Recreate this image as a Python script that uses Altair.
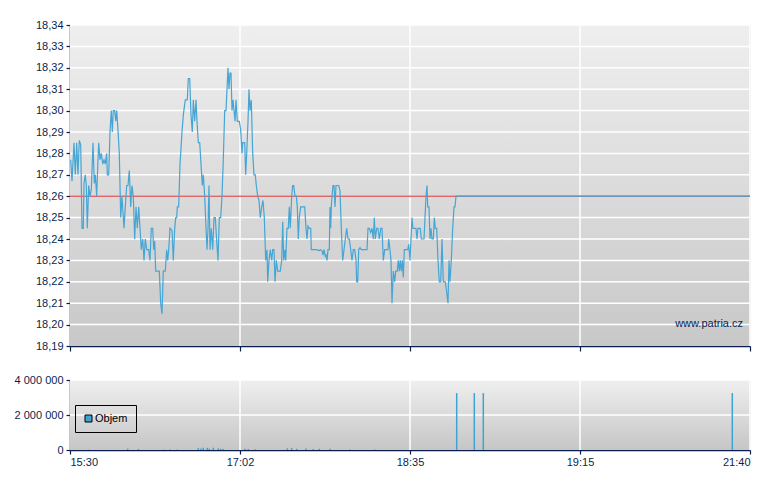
import altair as alt
import pandas as pd

# ---- data ----
t = [0.7, 2, 4, 5.3, 6.7, 8, 9.3, 10.7, 12, 13.3, 14, 15.3, 16.3, 17.3, 18.7, 20, 21.3, 23, 24.3, 25.3,
     26.7, 28, 28.7, 30, 31.3, 32.7, 34, 35.3, 36.7, 37.3, 38.7, 40, 41.3, 42.3, 43.3, 44.7, 45.7, 46.7, 48, 49.3,
     50.7, 52, 54, 55.3, 56.7, 58, 59.3, 60.7, 62, 63.3, 64.7, 66, 67.3, 68.7, 70, 71.3, 72.7, 74, 75.3, 76.7,
     77.3, 78.7, 80, 81.3, 82.7, 83.7, 84.7, 85.7, 87.7, 89.3, 90.7, 92, 93.3, 95.3, 96.7, 97.7, 98.7, 100, 102, 103.3,
     104.7, 105.7, 106.7, 107.3, 108.7, 110, 112, 113.3, 115.3, 117.3, 118.3, 119.7, 121, 122.3, 123.3, 124.7, 126, 127, 128.3, 129.7,
     131, 132.3, 133.3, 134.7, 136, 137, 138, 139, 140, 141.3, 142.7, 144, 145.3, 146.7, 148, 149.3, 150.7, 152, 153.3, 154.7,
     156, 158, 159, 160, 161, 162, 163, 164, 165, 166, 167.3, 169.3, 170.7, 172, 172.7, 174.7, 175.7, 176.7, 178, 179,
     180, 181.3, 182.7, 184, 185.3, 186.3, 187.7, 189, 190.3, 191.7, 193, 194.3, 195.7, 197, 197.7, 199, 200.3, 201.7, 202.7, 204,
     205, 206.3, 207.7, 209, 210.3, 211.7, 212.7, 213.7, 214.7, 215.7, 217, 218.3, 219.3, 220.3, 221.7, 222.7, 223.7, 225, 226.3, 227.3,
     228.3, 229.3, 230.7, 232, 234.7, 236, 237, 238, 239.3, 240.7, 241.3, 243.7, 247, 248.7, 250.3, 252, 253, 254, 255.3, 256,
     257, 258, 259.3, 260, 260.7, 261.3, 262, 263, 264, 265, 266, 267.3, 268.7, 270, 271.3, 272.7, 274, 275.3, 276.7, 278,
     279.3, 280.7, 282, 283.3, 284.7, 286, 286.7, 287.7, 288.7, 290, 291.3, 297, 298, 299.3, 300.7, 302, 303.3, 304.3, 305.3, 306.7,
     308, 309.3, 310.7, 312, 313.3, 314.7, 318, 318.7, 320, 321, 322, 323.3, 324.7, 325.7, 327.3, 328.3, 329.3, 330.3, 331.3, 332.3,
     333.3, 334.3, 337.7, 338.7, 340, 341, 342, 343, 346, 347, 348, 350.3, 351.3, 354, 355, 356, 357, 357.7, 359, 360,
     361, 362, 363.3, 364.3, 365.3, 366.7, 368, 369.3, 370.7, 372, 373.3, 375.3, 376.7, 378, 379, 380, 381.3, 382.7, 384, 385,
     386, 680]
price = [18.277, 18.267, 18.285, 18.270, 18.285, 18.270, 18.286, 18.284, 18.245, 18.245, 18.266, 18.270, 18.265, 18.245, 18.265, 18.260, 18.263, 18.285, 18.266, 18.270,
         18.260, 18.277, 18.285, 18.277, 18.280, 18.275, 18.277, 18.275, 18.280, 18.270, 18.270, 18.290, 18.300, 18.290, 18.300, 18.300, 18.295, 18.300, 18.291, 18.280,
         18.250, 18.260, 18.245, 18.255, 18.265, 18.265, 18.272, 18.255, 18.265, 18.260, 18.240, 18.255, 18.245, 18.255, 18.245, 18.235, 18.240, 18.230, 18.240, 18.235,
         18.235, 18.235, 18.230, 18.245, 18.245, 18.235, 18.239, 18.225, 18.225, 18.225, 18.210, 18.205, 18.225, 18.225, 18.235, 18.230, 18.235, 18.245, 18.244, 18.230,
         18.245, 18.250, 18.250, 18.255, 18.255, 18.275, 18.290, 18.298, 18.305, 18.305, 18.315, 18.315, 18.298, 18.290, 18.305, 18.295, 18.305, 18.295, 18.285, 18.285,
         18.275, 18.265, 18.270, 18.260, 18.245, 18.235, 18.245, 18.265, 18.235, 18.245, 18.235, 18.250, 18.250, 18.239, 18.230, 18.250, 18.250, 18.260, 18.277, 18.300,
         18.300, 18.320, 18.310, 18.3175, 18.3175, 18.300, 18.305, 18.300, 18.295, 18.305, 18.295, 18.295, 18.291, 18.280, 18.285, 18.285, 18.270, 18.280, 18.295, 18.310,
         18.300, 18.305, 18.280, 18.270, 18.270, 18.265, 18.260, 18.258, 18.250, 18.255, 18.258, 18.250, 18.230, 18.235, 18.220, 18.230, 18.235, 18.230, 18.235, 18.235,
         18.220, 18.230, 18.225, 18.225, 18.225, 18.230, 18.248, 18.230, 18.235, 18.230, 18.245, 18.245, 18.255, 18.245, 18.260, 18.265, 18.265, 18.260, 18.260, 18.255,
         18.240, 18.250, 18.255, 18.255, 18.255, 18.245, 18.240, 18.246, 18.245, 18.245, 18.235, 18.235, 18.235, 18.2345, 18.235, 18.2345, 18.2325, 18.235, 18.232, 18.2325,
         18.230, 18.235, 18.235, 18.255, 18.245, 18.255, 18.260, 18.265, 18.265, 18.255, 18.265, 18.265, 18.265, 18.2625, 18.245, 18.230, 18.235, 18.240, 18.245, 18.240,
         18.240, 18.235, 18.230, 18.235, 18.235, 18.230, 18.220, 18.220, 18.235, 18.236, 18.235, 18.235, 18.245, 18.245, 18.243, 18.245, 18.240, 18.250, 18.240, 18.245,
         18.245, 18.240, 18.245, 18.245, 18.230, 18.235, 18.235, 18.240, 18.235, 18.230, 18.210, 18.225, 18.220, 18.225, 18.225, 18.230, 18.225, 18.230, 18.225, 18.230,
         18.222, 18.235, 18.235, 18.2375, 18.230, 18.240, 18.250, 18.245, 18.245, 18.240, 18.245, 18.245, 18.240, 18.240, 18.250, 18.260, 18.265, 18.255, 18.255, 18.240,
         18.245, 18.240, 18.240, 18.250, 18.245, 18.245, 18.230, 18.220, 18.220, 18.240, 18.220, 18.220, 18.215, 18.210, 18.230, 18.220, 18.230, 18.245, 18.255, 18.255,
         18.260, 18.260]

vol_t = [19.3, 57.7, 68.3, 94.3, 100, 106.7, 128.3, 131, 133.3, 137.3, 139.3, 143.3, 148.3, 150.7, 153.3,
         175, 178.3, 185, 217.3, 221.7, 226.7, 236, 243.3, 249.3, 260, 280, 305,
         386.7, 404.3, 413.3, 662.3]
vol = [20000, 75000, 60000, 25000, 25000, 25000, 110000, 90000, 130000, 120000, 80000, 130000, 100000, 70000, 60000,
       70000, 60000, 40000, 95000, 110000, 70000, 80000, 60000, 70000, 70000, 25000, 25000,
       3250000, 3250000, 3250000, 3250000]
vol_series = ["Objem"] * len(vol)

x_ticks = [0, 170, 340, 510, 680]
x_labels = ["15:30", "17:02", "18:35", "19:15", "21:40"]
price_ticks = [18.19, 18.20, 18.21, 18.22, 18.23, 18.24, 18.25, 18.26, 18.27, 18.28,
               18.29, 18.30, 18.31, 18.32, 18.33, 18.34]
vol_ticks = [0, 2000000, 4000000]
ref_price = 18.26
watermark = "www.patria.cz"

# ---- styling ----
W, H1, H2 = 680, 321, 70
GAP = 20
NAVY = "#0b1f4e"
BLUE = "#45a5d5"
FONT = "Liberation Sans"

price_df = pd.DataFrame({"t": t, "price": price})
vol_df = pd.DataFrame({"t": vol_t, "vol": vol, "series": vol_series})
one = pd.DataFrame({"a": [0]})

xscale = alt.Scale(domain=[0, 680], nice=False, zero=False, padding=0)
yscale = alt.Scale(domain=[18.19, 18.34], nice=False, zero=False)
vscale = alt.Scale(domain=[0, 4000000], nice=False)

label_map = "{" + ",".join(f"'{v}':'{l}'" for v, l in zip(x_ticks, x_labels)) + "}"
x_label_expr = f"{label_map}[''+datum.value]"

def grad(top, bottom):
    return {"gradient": "linear", "x1": 0, "x2": 0, "y1": 0, "y2": 1,
            "stops": [{"offset": 0, "color": top}, {"offset": 1, "color": bottom}]}

axis_common = dict(domainColor=NAVY, tickColor=NAVY, labelColor=NAVY, labelFont=FONT,
                   labelFontSize=11, grid=False, title=None, domainWidth=1.5, tickWidth=1.2)

x_axis_top = alt.Axis(values=x_ticks, labels=False, tickSize=5, **axis_common)
y_axis_top = alt.Axis(values=price_ticks, tickSize=4, labelPadding=3,
                      labelExpr="replace(format(datum.value, '.2f'), '.', ',')", **axis_common)
x_axis_bot = alt.Axis(values=x_ticks, labelExpr=x_label_expr, tickSize=4, labelPadding=2, **axis_common)
y_axis_bot = alt.Axis(values=vol_ticks, tickSize=4, labelPadding=3, format=",d", **axis_common)

# top panel
bg1 = alt.Chart(one).mark_rect(color=grad("#efefef", "#c8c8c8")).encode(
    x=alt.value(0), x2=alt.value(W), y=alt.value(0), y2=alt.value(H1))
ygrid1 = alt.Chart(pd.DataFrame({"v": price_ticks[1:]})).mark_rule(color="white", strokeWidth=1.5).encode(
    y=alt.Y("v:Q", scale=yscale, axis=y_axis_top))
xgrid1 = alt.Chart(pd.DataFrame({"t": x_ticks[1:]})).mark_rule(color="white", strokeWidth=1.5).encode(
    x=alt.X("t:Q", scale=xscale, axis=x_axis_top))
ref = alt.Chart(one).mark_rule(color="#e05555", strokeWidth=1.5, opacity=0.9).encode(
    y=alt.datum(ref_price, scale=yscale, axis=y_axis_top))
line = alt.Chart(price_df).mark_line(color=BLUE, strokeWidth=1.2).encode(
    x=alt.X("t:Q", scale=xscale, axis=x_axis_top),
    y=alt.Y("price:Q", scale=yscale, axis=y_axis_top))
wm = alt.Chart(pd.DataFrame({"s": [watermark]})).mark_text(
    align="right", baseline="alphabetic", font=FONT, fontSize=11, color=NAVY).encode(
    x=alt.value(673), y=alt.value(302), text="s:N")

top = alt.layer(bg1, ygrid1, xgrid1, ref, line, wm).properties(width=W, height=H1)

# bottom panel
bg2 = alt.Chart(one).mark_rect(color=grad("#efefef", "#c6c6c6")).encode(
    x=alt.value(0), x2=alt.value(W), y=alt.value(0), y2=alt.value(H2))
ygrid2 = alt.Chart(pd.DataFrame({"v": vol_ticks[1:]})).mark_rule(color="white", strokeWidth=1.5).encode(
    y=alt.Y("v:Q", scale=vscale, axis=y_axis_bot))
xgrid2 = alt.Chart(pd.DataFrame({"t": x_ticks[1:]})).mark_rule(color="white", strokeWidth=1.5).encode(
    x=alt.X("t:Q", scale=xscale, axis=x_axis_bot))
bars = alt.Chart(vol_df).mark_bar(size=1.5).encode(
    x=alt.X("t:Q", scale=xscale, axis=x_axis_bot),
    y=alt.Y("vol:Q", scale=vscale, axis=y_axis_bot),
    color=alt.Color("series:N", scale=alt.Scale(range=["#3ea3d3"]),
                    legend=alt.Legend(orient="none", legendX=5, legendY=H1 + 34 + 25, title=None,
                                      strokeColor="black", padding=8, symbolType="square",
                                      symbolSize=49, symbolStrokeColor="black", symbolStrokeWidth=1,
                                      labelOffset=1,
                                      labelFont=FONT, labelFontSize=11, labelColor="black")))

bottom = alt.layer(bg2, ygrid2, xgrid2, bars).properties(width=W, height=H2)

chart = alt.vconcat(top, bottom, spacing=GAP).properties(
    padding={"left": 5, "top": 10, "right": 5, "bottom": 5}
).configure_view(stroke=None).configure(
    locale={"number": {"decimal": ",", "thousands": " ", "grouping": [3], "currency": ["", ""]}}
)

chart.save("out.html", embed_options={"renderer": "svg", "actions": False})
